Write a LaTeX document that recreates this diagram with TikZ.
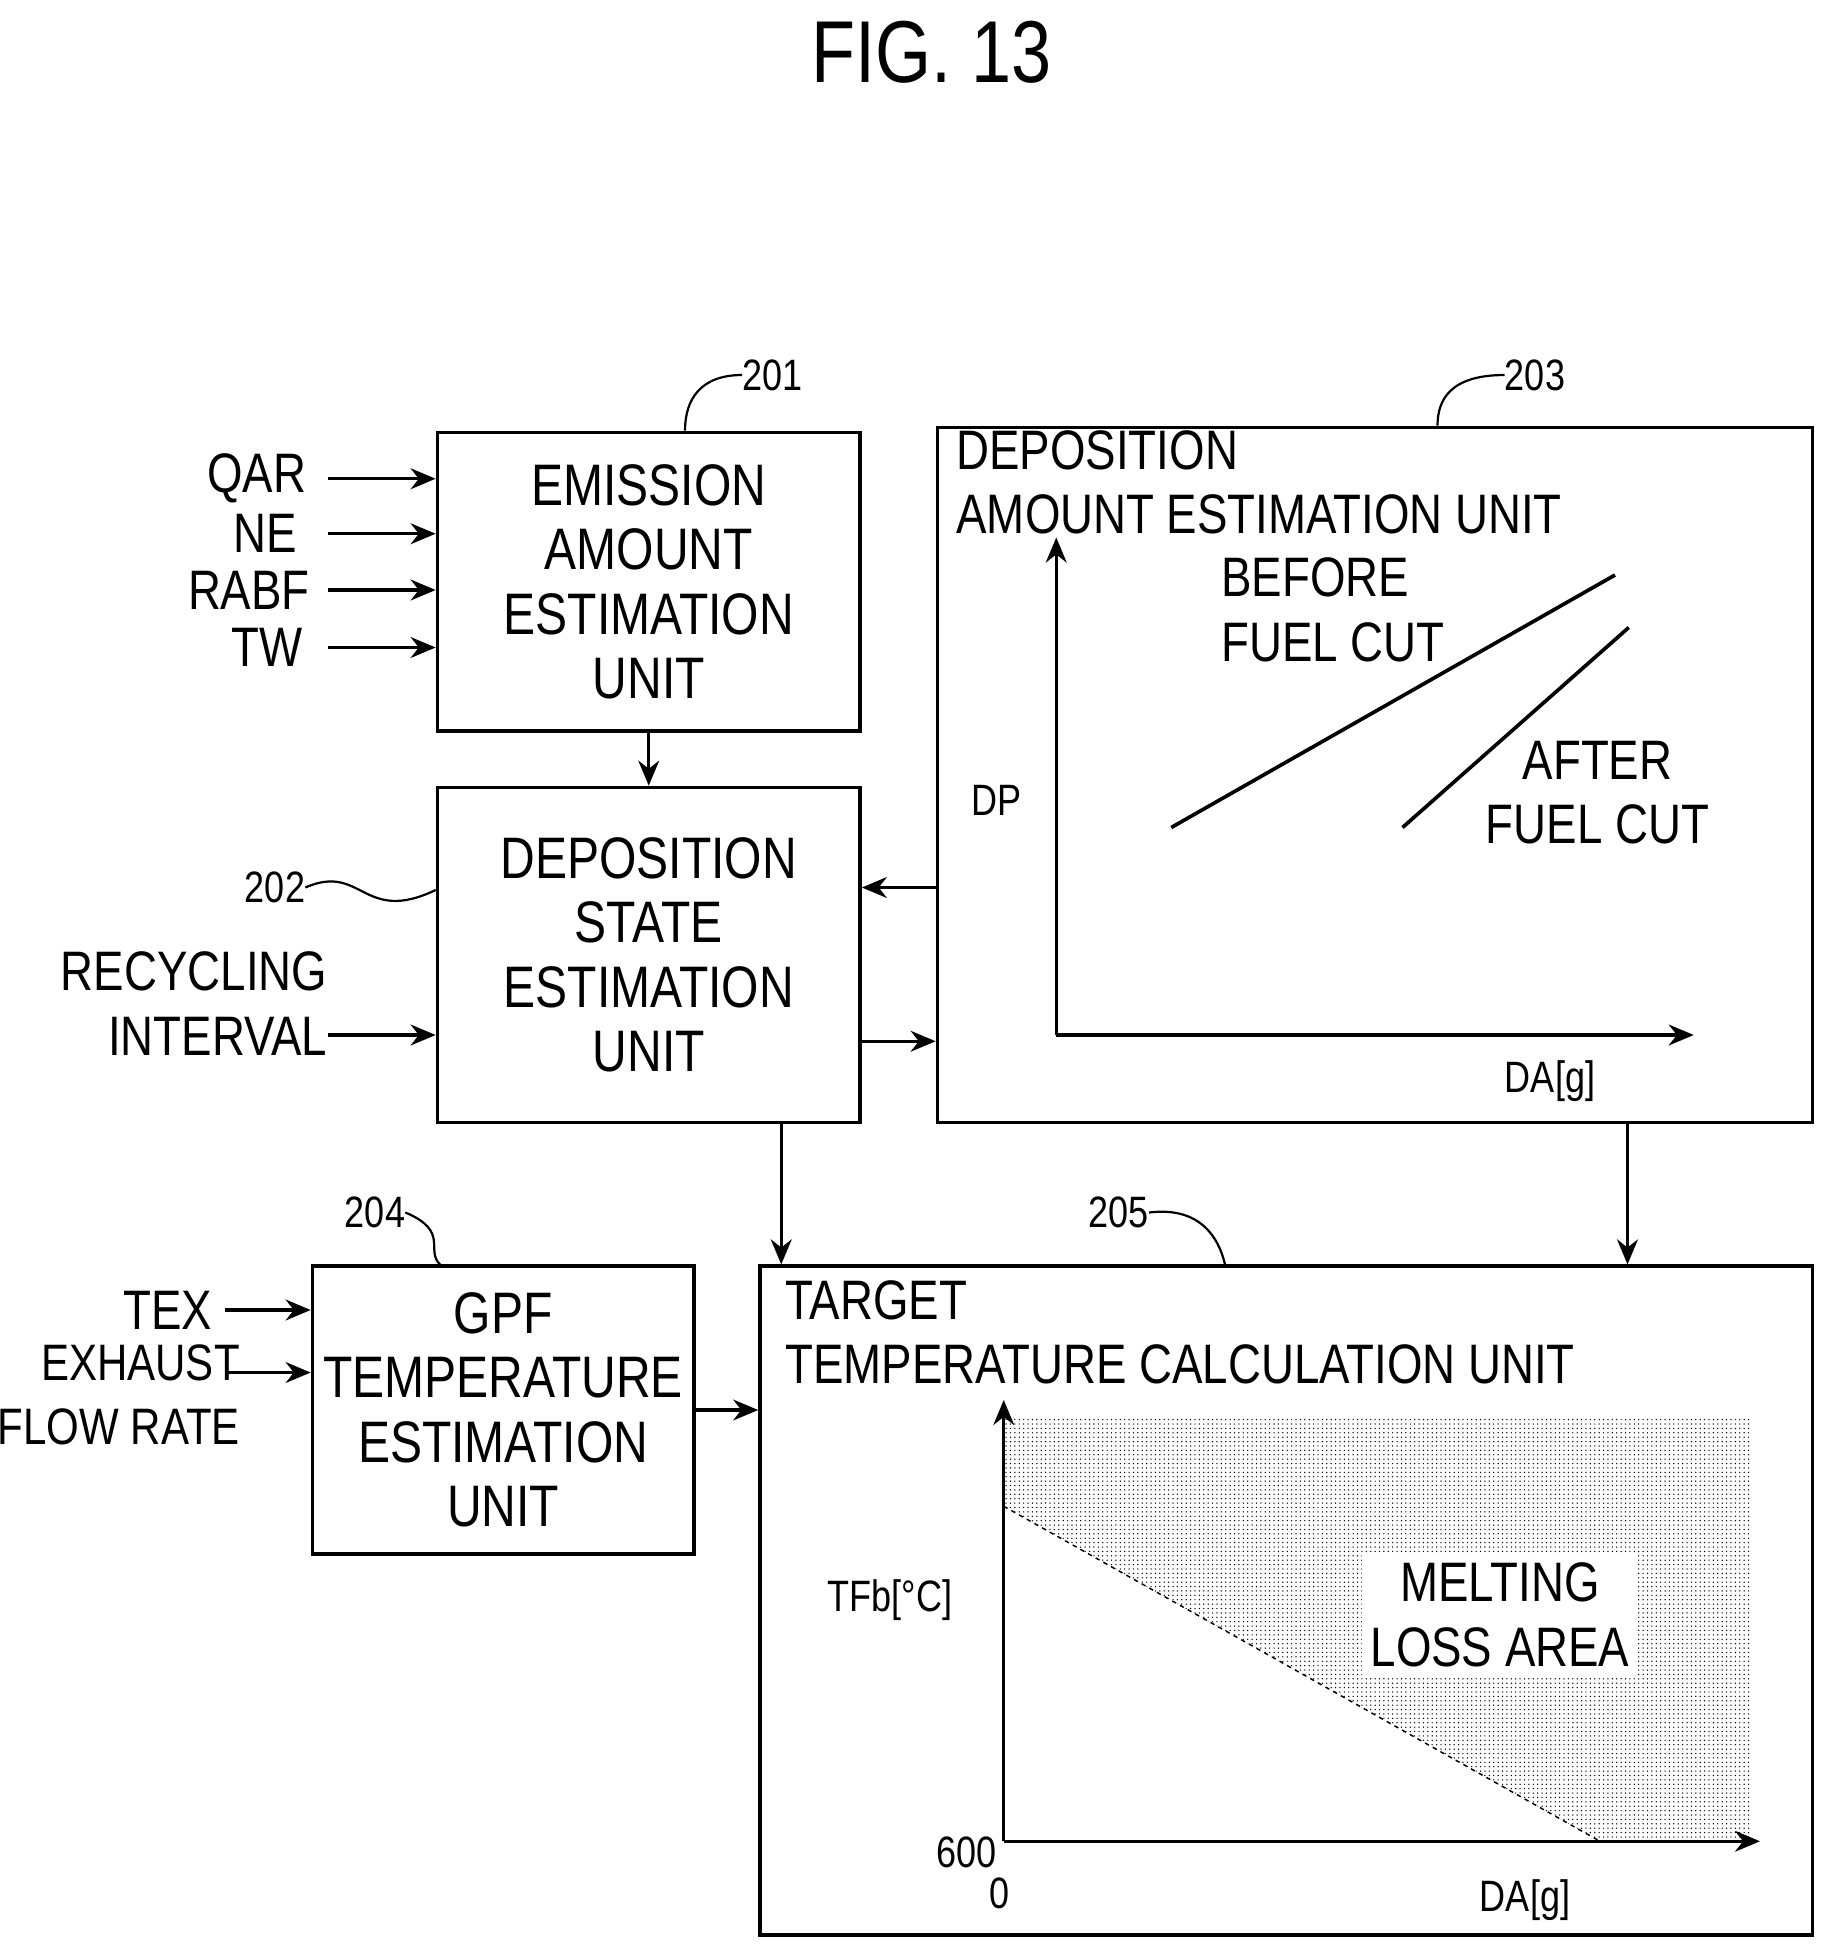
\documentclass[tikz,border=0pt]{standalone}
\usepackage{fontspec}
\setmainfont{Liberation Sans}[FakeStretch=0.82]
\usepackage{tikz}
\usetikzlibrary{positioning,arrows.meta,patterns}

\tikzset{
  unit/.style={draw, line width=2.5pt, inner sep=0pt, align=center,
    font=\fontsize{40}{44}\selectfont},
  lbl/.style={font=\fontsize{38}{44}\selectfont, inner sep=0pt, align=center},
  small/.style={font=\fontsize{30}{34}\selectfont, inner sep=0pt},
  arr/.style={-{Stealth[length=6mm,width=5mm]}, line width=2.2pt},
  lead/.style={line width=1.5pt},
}

\begin{document}
\begin{tikzpicture}[x=0.3mm,y=-0.3mm]
\useasboundingbox (0,0) rectangle (1468,1568);

% title %
\node[font=\fontsize{60}{66}\selectfont] (fig) at (745,42) {FIG. 13};

% units %
\node[unit, minimum width=101.4mm, minimum height=71.7mm] (e201) at (519,465.5)
  {EMISSION\\AMOUNT\\ESTIMATION\\UNIT};
\node[unit, minimum width=101.4mm, minimum height=80.4mm] (d202) at (519,764)
  {DEPOSITION\\STATE\\ESTIMATION\\UNIT};
\node[unit, minimum width=210mm, minimum height=166.8mm] (d203) at (1100,620) {};
\node[unit, minimum width=91.5mm, minimum height=69mm] (g204) at (402.5,1128)
  {GPF\\TEMPERATURE\\ESTIMATION\\UNIT};
\node[unit, minimum width=252.6mm, minimum height=160.5mm] (t205) at (1029,1280.5) {};

% reference numbers %
\node[small] (n201) at (618,300) {201};
\node[small] (n202) at (220,710) {202};
\node[small] (n203) at (1228,300) {203};
\node[small] (n204) at (300,970) {204};
\node[small] (n205) at (895,970) {205};
\draw[lead] (n201.west) .. controls (560,300) and (548,320) .. (e201.north -| 548,0);
\draw[lead] (n202.east) .. controls (290,690) and (290,740) .. (d202.west |- 0,712);
\draw[lead] (n203.west) .. controls (1160,300) and (1150,320) .. (d203.north -| 1150,0);
\draw[lead] (n204.east) .. controls (360,985) and (340,1000) .. (g204.north -| 352,0);
\draw[lead] (n205.east) .. controls (960,965) and (975,990) .. (t205.north -| 980,0);

% inputs %
\node[lbl, anchor=east] (qar) at (245,383) {QAR};
\node[lbl, anchor=east] (ne) at (238,427) {NE};
\node[lbl, anchor=east] (rabf) at (248,472) {RABF};
\node[lbl, anchor=east] (tw) at (242,518) {TW};
\foreach \n/\y in {qar/383, ne/427, rabf/472, tw/518}
  \draw[arr] (262,\y) -- (e201.west |- 0,\y);
\node[lbl, align=right, anchor=east] (recy) at (262,803) {RECYCLING\\INTERVAL};
\draw[arr] (recy.east |- 0,828) -- (d202.west |- 0,828);
\node[lbl, anchor=east] (tex) at (170,1048) {TEX};
\draw[arr] (180,1048) -- (g204.west |- 0,1048);
\node[lbl, align=right, anchor=east, font=\fontsize{35}{44}\selectfont] (exh) at (192,1116) {EXHAUST\\FLOW RATE};
\draw[arr] (180,1098) -- (g204.west |- 0,1098);

% unit links %
\draw[arr] (e201.south) -- (d202.north);
\draw[arr] (d203.west |- 0,710) -- (d202.east |- 0,710);
\draw[arr] (d202.east |- 0,833) -- (d203.west |- 0,833);
\draw[arr] (d202.south -| 625,0) -- (t205.north -| 625,0);
\draw[arr] (d203.south -| 1302,0) -- (t205.north -| 1302,0);
\draw[arr] (g204.east |- 0,1128) -- (t205.west |- 0,1128);

% deposition map %
\node[lbl, anchor=north west, align=left] (d203t) at (765,344) {DEPOSITION\\AMOUNT ESTIMATION UNIT};
\coordinate (o1) at (845,828);
\draw[arr] (o1) -- (845,430);
\draw[arr] (o1) -- (1355,828);
\node[small] (dp) at (797,640) {DP};
\node[small] (da1) at (1240,865) {DA[g]};
\draw[line width=2.5pt] (937,662) -- (1292,460);
\draw[line width=2.5pt] (1122,662) -- (1303,502);
\node[lbl, anchor=west, align=left] (bfc) at (977,488) {BEFORE\\FUEL CUT};
\node[lbl, align=center] (afc) at (1278,634) {AFTER\\FUEL CUT};

% target temperature map %
\node[lbl, anchor=north west, align=left] (t205t) at (628,1024) {TARGET\\TEMPERATURE CALCULATION UNIT};
\coordinate (o2) at (803,1473);
\fill[pattern=dots, pattern color=black] (803,1133) -- (1400,1133) -- (1400,1473)
  -- (1280,1473) -- (803,1205) -- cycle;
\draw[line width=1pt, dashed] (803,1205) -- (1280,1473);
\draw[arr] (o2) -- (803,1120);
\draw[arr] (o2) -- (1408,1473);
\node[lbl, fill=white, inner sep=6pt] (melt) at (1200,1292) {MELTING\\LOSS AREA};
\node[small] (tfb) at (712,1280) {TFb[°C]};
\node[small] (t600) at (773,1482) {600};
\node[small] (z0) at (800,1515) {0};
\node[small] (da2) at (1220,1520) {DA[g]};
\end{tikzpicture}
\end{document}
